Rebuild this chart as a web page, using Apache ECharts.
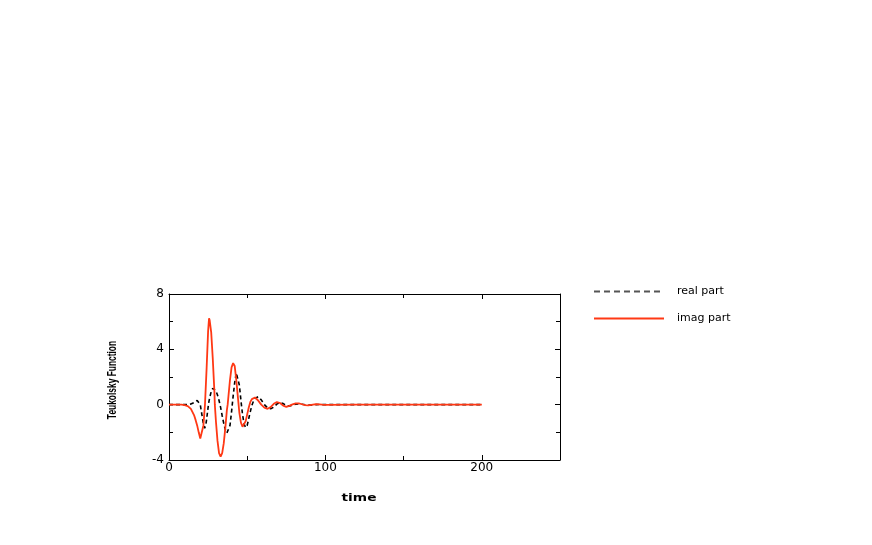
<!DOCTYPE html>
<html>
<head>
<meta charset="utf-8">
<script src="https://cdn.jsdelivr.net/npm/echarts@6/dist/echarts.min.js"></script>
<style>html,body{margin:0;padding:0;background:#fff}#c{width:872px;height:545px}</style>
</head>
<body>
<div id="c"></div>
<script>
var seriesNames = ['real part', 'imag part'];
var xTitle = 'time';
var yTitle = 'Teukolsky Function';

var realTime = [0,5,10,12,14,16,17,18,18.5,19,20,21,22,22.8,23.5,24,25,25.5,26,27,28,28.6,29,30,31,32,33,34,35,36,37,37.7,38,39,40,41,42,43,43.3,44,45,46,47,48,49,50,51,52,53,54,55,56,57,58,59,60,61,62,63,64,65,66,67,68,69,70,71,72,73,74,75,76,77,78,79,80,81,82,83,84,85,86,88,90,92,94,96,100,120,150,200];
var realValues = [0,0,0,0.01,0.05,0.15,0.25,0.3,0.31,0.25,0,-0.7,-1.4,-1.7,-1.5,-1.1,-0.2,0.2,0.5,0.95,1.18,1.21,1.18,1.0,0.7,0.3,-0.2,-0.8,-1.35,-1.8,-2.05,-2.1,-2.05,-1.5,-0.5,0.6,1.6,2.3,2.37,2.2,1.4,0.3,-0.7,-1.4,-1.65,-1.5,-1.0,-0.5,-0.05,0.25,0.45,0.55,0.57,0.5,0.35,0.17,0,-0.13,-0.23,-0.28,-0.3,-0.27,-0.18,-0.06,0.05,0.13,0.17,0.15,0.08,-0.01,-0.07,-0.1,-0.1,-0.07,-0.03,0.01,0.04,0.06,0.06,0.05,0.03,0.01,-0.02,-0.03,-0.02,0,0.01,0,0,0,0];

var imagTime = [0,5,8,10,12,14,16,17,18,19,20,20.5,21,22,23,24,25,25.6,26,27,28,29,29.3,30,31,32,33,34,35,36,37,37.5,38,39,40,41,42,43,44,45,46,47,47.6,48,49,50,51,52,53,54,55,56,57,58,59,60,61,62,63,64,65,66,67,68,69,70,71,72,73,74,75,76,77,78,79,80,81,82,83,84,85,86,87,88,89,90,92,94,96,98,100,120,150,200];
var imagValues = [0,0,0,-0.03,-0.1,-0.3,-0.75,-1.1,-1.5,-2.0,-2.45,-2.55,-2.4,-1.5,0,2.5,5.3,6.25,6.1,5.2,3.3,1.0,0,-1.2,-2.6,-3.5,-3.75,-3.5,-2.8,-1.7,-0.4,0,0.6,1.8,2.7,3.0,2.8,1.8,0.6,-0.6,-1.3,-1.6,-1.65,-1.6,-1.2,-0.7,-0.2,0.2,0.4,0.5,0.52,0.45,0.3,0.15,0,-0.12,-0.22,-0.28,-0.3,-0.27,-0.18,-0.06,0.06,0.15,0.19,0.19,0.12,0.03,-0.07,-0.13,-0.16,-0.14,-0.09,-0.03,0.02,0.06,0.09,0.1,0.09,0.06,0.03,0,-0.03,-0.05,-0.05,-0.04,0,0.03,0.02,0,-0.01,0,0,0];

function pairs(t, v) { return t.map(function (x, i) { return [x, v[i]]; }); }

var font = 'DejaVu Sans';
function ax(extra) {
  return Object.assign({
    axisLine: { show: true, onZero: false, lineStyle: { color: '#000', width: 1 } },
    axisTick: { show: true, inside: true, length: 5, lineStyle: { color: '#000' } },
    minorTick: { show: true, splitNumber: 2, length: 4, lineStyle: { color: '#000' } },
    splitLine: { show: false },
    minorSplitLine: { show: false }
  }, extra);
}

var chart = echarts.init(document.getElementById('c'), null, { renderer: 'canvas' });
chart.setOption({
  animation: false,
  backgroundColor: '#fff',
  grid: { left: 169, right: 312, top: 294, bottom: 85, containLabel: false },
  xAxis: [
    ax({ type: 'value', min: 0, max: 250, interval: 100, position: 'bottom',
      axisLabel: { show: true, showMaxLabel: false, color: '#000', fontFamily: font, fontSize: 12, margin: 2 } }),
    ax({ type: 'value', min: 0, max: 250, interval: 100, position: 'top', axisLabel: { show: false } })
  ],
  yAxis: [
    ax({ type: 'value', min: -4, max: 8, interval: 4, position: 'left',
      axisLabel: { show: true, color: '#000', fontFamily: font, fontSize: 12, margin: 5 } }),
    ax({ type: 'value', min: -4, max: 8, interval: 4, position: 'right', axisLabel: { show: false } })
  ],
  legend: {
    orient: 'vertical', left: 593, top: 286, padding: 0, itemWidth: 70, itemHeight: 12, itemGap: 16,
    itemStyle: { opacity: 0 },
    textStyle: { fontFamily: font, fontSize: 11, color: '#000', padding: [0, 0, 0, 8] },
    data: [
      { name: seriesNames[0], lineStyle: { color: '#555', type: [6, 4] } },
      { name: seriesNames[1] }
    ]
  },
  graphic: [
    { type: 'text', x: 359, y: 498, scaleX: 1.25, style: { text: xTitle, font: 'bold 11px "DejaVu Sans"', fill: '#000', align: 'center', verticalAlign: 'middle' } },
    { type: 'text', x: 113, y: 380, rotation: Math.PI / 2, scaleX: 0.7, style: { text: yTitle, font: 'bold 12px "Liberation Sans"', fill: '#000', align: 'center', verticalAlign: 'middle' } }
  ],
  series: [
    { name: seriesNames[0], type: 'line', data: pairs(realTime, realValues), symbol: 'none', smooth: false,
      lineStyle: { color: '#000', width: 1.6, type: [4, 3] }, itemStyle: { color: '#444' }, z: 2 },
    { name: seriesNames[1], type: 'line', data: pairs(imagTime, imagValues), symbol: 'none', smooth: false,
      lineStyle: { color: '#ff3814', width: 1.8 }, itemStyle: { color: '#ff3814' }, z: 3 }
  ]
});
</script>
</body>
</html>
